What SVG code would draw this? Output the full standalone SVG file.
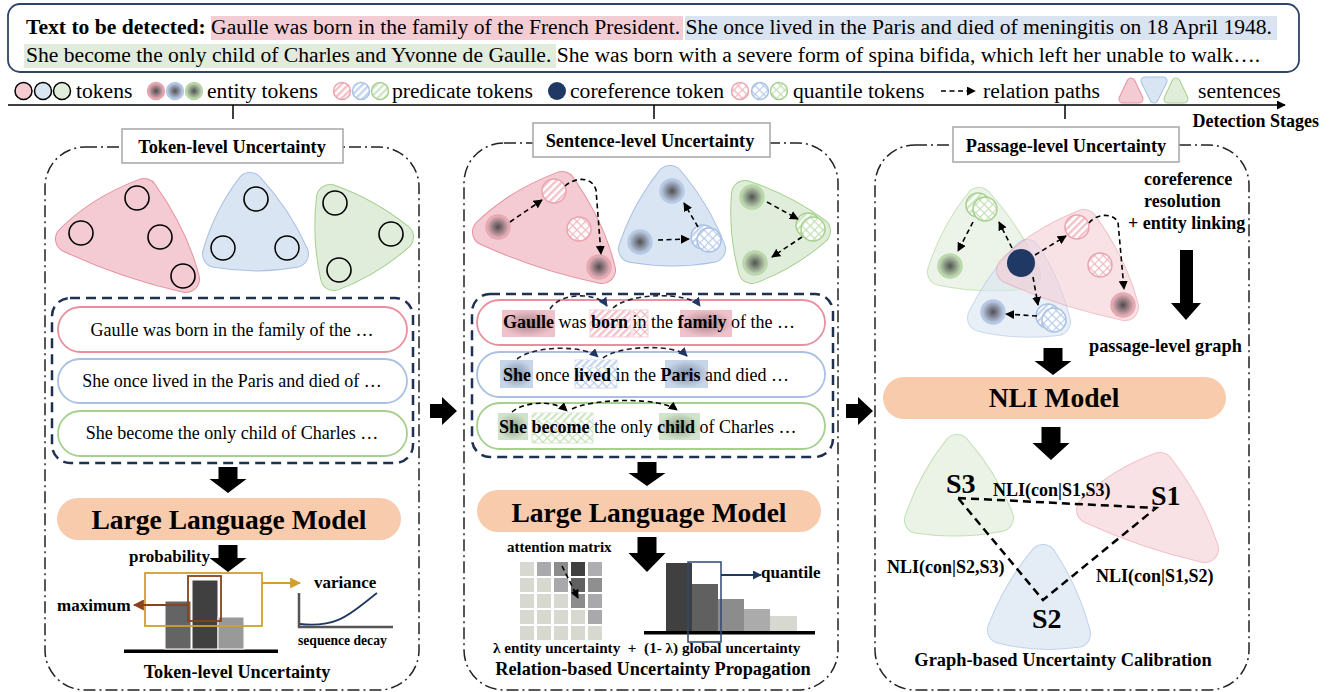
<svg xmlns="http://www.w3.org/2000/svg" width="1335" height="692" viewBox="0 0 1335 692">
<style>
text{font-family:"Liberation Serif","Times New Roman",serif;fill:#000}
.b{font-weight:bold}
.lg{font-size:21.6px}
.panel{fill:none;stroke:#222;stroke-width:1.5;stroke-dasharray:12 4 2 4}
.tbox{fill:#fff;stroke:#a6a6a6;stroke-width:1.5}
.ttl{font-size:18.3px;font-weight:bold;text-anchor:middle}
.dbox{fill:none;stroke:#1f3050;stroke-width:2.5;stroke-dasharray:10 6}
.pill{fill:#fff;stroke-width:1.8}
.ps{stroke:#e8919e}.bs{stroke:#a9c0e4}.gs{stroke:#a5d08e}
.sent{font-size:18px;text-anchor:middle}
.s18{font-size:18px}
.llm{fill:#f8cbad}
.big{font-size:27.5px;font-weight:bold;text-anchor:middle}
.o,.f,.o2,.f2{stroke-linejoin:round}
.o{stroke-width:28}.f{stroke-width:26}
.o2{stroke-width:9}.f2{stroke-width:7}
.tp .o,.tp .o2{fill:#e8919e;stroke:#e8919e}.tp .f,.tp .f2{fill:#f4cbd3;stroke:#f4cbd3}
.tb .o,.tb .o2{fill:#a9c0e4;stroke:#a9c0e4}.tb .f,.tb .f2{fill:#dae5f3;stroke:#dae5f3}
.tg .o,.tg .o2{fill:#a5d08e;stroke:#a5d08e}.tg .f,.tg .f2{fill:#e1eddb;stroke:#e1eddb}
.tok{fill:none;stroke:#000;stroke-width:1.6}
.ep{fill:url(#gp);stroke:#eda3ae;stroke-width:1.5}
.eb{fill:url(#gb);stroke:#b3c8ea;stroke-width:1.5}
.eg{fill:url(#gg);stroke:#b4d9a0;stroke-width:1.5}
.pp{fill:url(#hp);stroke:#eda3ae;stroke-width:1.5}
.pb{fill:url(#hb);stroke:#a9c0e4;stroke-width:1.5}
.pg{fill:url(#hg);stroke:#a5d08e;stroke-width:1.5}
.qp{fill:url(#xp);stroke:#eda3ae;stroke-width:1.5}
.qb{fill:url(#xb);stroke:#a9c0e4;stroke-width:1.5}
.qg{fill:url(#xg);stroke:#a5d08e;stroke-width:1.5}
.dash{fill:none;stroke:#000;stroke-width:1.6;stroke-dasharray:5 3.5}
.dashn{fill:none;stroke:#1a2236;stroke-width:1.6;stroke-dasharray:5 3.5}
.blk{fill:#000}
.lab{font-size:17px;font-weight:bold}
</style>
<defs>
<radialGradient id="gp"><stop offset="0" stop-color="#4f4a4d"/><stop offset="1" stop-color="#f0b9c3"/></radialGradient>
<radialGradient id="gb"><stop offset="0" stop-color="#4f4f55"/><stop offset="1" stop-color="#c5d6ef"/></radialGradient>
<radialGradient id="gg"><stop offset="0" stop-color="#4f534d"/><stop offset="1" stop-color="#cce4bf"/></radialGradient>
<radialGradient id="hgp"><stop offset="0" stop-color="#a8838a"/><stop offset="1" stop-color="#efc1ca"/></radialGradient>
<radialGradient id="hgb"><stop offset="0" stop-color="#8290a6"/><stop offset="1" stop-color="#c6d5ea"/></radialGradient>
<radialGradient id="hgg"><stop offset="0" stop-color="#8fa188"/><stop offset="1" stop-color="#d2e3cb"/></radialGradient>
<pattern id="hp" width="5" height="5" patternUnits="userSpaceOnUse" patternTransform="rotate(45)"><rect width="5" height="5" fill="#fff"/><rect width="2.4" height="5" fill="#f3c1ca"/></pattern>
<pattern id="hb" width="5" height="5" patternUnits="userSpaceOnUse" patternTransform="rotate(45)"><rect width="5" height="5" fill="#fff"/><rect width="2.4" height="5" fill="#c3d4ee"/></pattern>
<pattern id="hg" width="5" height="5" patternUnits="userSpaceOnUse" patternTransform="rotate(45)"><rect width="5" height="5" fill="#fff"/><rect width="2.4" height="5" fill="#cfe5c3"/></pattern>
<pattern id="xp" width="6" height="6" patternUnits="userSpaceOnUse" patternTransform="rotate(45)"><rect width="6" height="6" fill="#fff"/><path d="M0,0.6H6M0.6,0V6" stroke="#f0b5bf" stroke-width="1.1"/></pattern>
<pattern id="xb" width="6" height="6" patternUnits="userSpaceOnUse" patternTransform="rotate(45)"><rect width="6" height="6" fill="#fff"/><path d="M0,0.6H6M0.6,0V6" stroke="#b7cbeb" stroke-width="1.1"/></pattern>
<pattern id="xg" width="6" height="6" patternUnits="userSpaceOnUse" patternTransform="rotate(45)"><rect width="6" height="6" fill="#fff"/><path d="M0,0.6H6M0.6,0V6" stroke="#c3dfb4" stroke-width="1.1"/></pattern>
<marker id="mk" viewBox="0 0 10 10" refX="9" refY="5" markerWidth="9" markerHeight="9" markerUnits="userSpaceOnUse" orient="auto"><path d="M0,0L10,5L0,10z" fill="#000"/></marker>
<marker id="mkn" viewBox="0 0 10 10" refX="9" refY="5" markerWidth="9" markerHeight="9" markerUnits="userSpaceOnUse" orient="auto"><path d="M0,0L10,5L0,10z" fill="#1f3864"/></marker>
<marker id="mkg" viewBox="0 0 10 10" refX="9" refY="5" markerWidth="11" markerHeight="11" markerUnits="userSpaceOnUse" orient="auto"><path d="M0,0L10,5L0,10z" fill="#d2a02a"/></marker>
<marker id="mkb" viewBox="0 0 10 10" refX="9" refY="5" markerWidth="11" markerHeight="11" markerUnits="userSpaceOnUse" orient="auto"><path d="M0,0L10,5L0,10z" fill="#8a4218"/></marker>
</defs>

<g id="input-text">
<rect x="8" y="4" width="1291" height="68" rx="12" fill="#fff" stroke="#2e4468" stroke-width="1.8"/>
<rect x="211" y="16" width="472" height="24" fill="#f4cdd4"/>
<rect x="685" y="16" width="592" height="24" fill="#dae4f0"/>
<rect x="24" y="44" width="532" height="24" fill="#e2ecdd"/>
<text class="lg" x="26" y="34"><tspan class="b">Text to be detected:</tspan> Gaulle was born in the family of the French President. She once lived in the Paris and died of meningitis on 18 April 1948.</text>
<text class="lg" x="26" y="62">She become the only child of Charles and Yvonne de Gaulle. She was born with a severe form of spina bifida, which left her unable to walk….</text>
</g>

<g id="legend">
<circle cx="23.5" cy="91" r="8.5" fill="#f4cbd3" stroke="#000" stroke-width="1.5"/>
<circle cx="43" cy="91" r="8.5" fill="#dae5f3" stroke="#000" stroke-width="1.5"/>
<circle cx="62" cy="91" r="8.5" fill="#e1eddb" stroke="#000" stroke-width="1.5"/>
<text class="lg" x="76" y="98">tokens</text>
<circle class="ep" cx="156" cy="91" r="8.5"/>
<circle class="eb" cx="175" cy="91" r="8.5"/>
<circle class="eg" cx="194" cy="91" r="8.5"/>
<text class="lg" x="207" y="98">entity tokens</text>
<circle class="pp" cx="342" cy="91" r="8.5"/>
<circle class="pb" cx="361" cy="91" r="8.5"/>
<circle class="pg" cx="380" cy="91" r="8.5"/>
<text class="lg" x="392" y="98">predicate tokens</text>
<circle cx="557" cy="91" r="9" fill="#1f3864"/>
<text class="lg" x="570" y="98">coreference token</text>
<circle class="qp" cx="740" cy="91" r="8.5"/>
<circle class="qb" cx="760" cy="91" r="8.5"/>
<circle class="qg" cx="779" cy="91" r="8.5"/>
<text class="lg" x="793" y="98">quantile tokens</text>
<line class="dash" x1="941" y1="91" x2="975" y2="91" marker-end="url(#mk)"/>
<text class="lg" x="983" y="98">relation paths</text>
<g class="tp"><path class="o2" d="M1123,99L1131,82L1139,99Z"/><path class="f2" d="M1123,99L1131,82L1139,99Z"/></g>
<g class="tb"><path class="o2" d="M1145,81L1163,81L1154,99Z"/><path class="f2" d="M1145,81L1163,81L1154,99Z"/></g>
<g class="tg"><path class="o2" d="M1168,99L1176,82L1184,99Z"/><path class="f2" d="M1168,99L1176,82L1184,99Z"/></g>
<text class="lg" x="1198" y="98">sentences</text>
<line x1="8" y1="105" x2="1285" y2="105" stroke="#000" stroke-width="1.6" marker-end="url(#mk)"/>
<line x1="233" y1="105" x2="233" y2="119" stroke="#000" stroke-width="1.5"/>
<line x1="654" y1="105" x2="654" y2="119" stroke="#000" stroke-width="1.5"/>
<line x1="1065" y1="105" x2="1065" y2="119" stroke="#000" stroke-width="1.5"/>
<text class="b" x="1319" y="127" font-size="18" text-anchor="end">Detection Stages</text>
</g>

<g id="token-level">
<rect class="panel" x="45" y="147" width="374" height="543" rx="40"/>
<rect class="tbox" x="122" y="129" width="221" height="34"/>
<text class="ttl" x="232" y="153">Token-level Uncertainty</text>
<g class="tp"><path class="o" d="M69,239Q98.5,209.2 144,192Q174.6,235.2 186,279Q125.9,265.7 69,239Z"/><path class="f" d="M69,239Q98.5,209.2 144,192Q174.6,235.2 186,279Q125.9,265.7 69,239Z"/></g>
<g class="tb"><path class="o" d="M250,186Q226.8,216.6 216,254Q256.1,260.8 295,254Q278.1,216.6 250,186Z"/><path class="f" d="M250,186Q226.8,216.6 216,254Q256.1,260.8 295,254Q278.1,216.6 250,186Z"/></g>
<g class="tg"><path class="o" d="M330,198Q368.1,211.5 400,237Q370.7,262.9 334,277Q325.2,237.6 330,198Z"/><path class="f" d="M330,198Q368.1,211.5 400,237Q370.7,262.9 334,277Q325.2,237.6 330,198Z"/></g>
<circle class="tok" cx="137" cy="198" r="12"/>
<circle class="tok" cx="81" cy="233" r="12"/>
<circle class="tok" cx="160" cy="237" r="12"/>
<circle class="tok" cx="183" cy="276" r="12"/>
<circle class="tok" cx="256" cy="199" r="12"/>
<circle class="tok" cx="223" cy="248" r="12"/>
<circle class="tok" cx="287" cy="248" r="12"/>
<circle class="tok" cx="335" cy="203" r="12"/>
<circle class="tok" cx="391" cy="234" r="12"/>
<circle class="tok" cx="339" cy="270" r="12"/>
<rect class="dbox" x="52" y="298" width="361" height="165" rx="18"/>
<rect class="pill ps" x="58" y="307" width="349" height="45" rx="22.5"/>
<rect class="pill bs" x="58" y="359" width="349" height="44" rx="22"/>
<rect class="pill gs" x="58" y="411" width="349" height="45" rx="22.5"/>
<text class="sent" x="232" y="336">Gaulle was born in the family of the …</text>
<text class="sent" x="232" y="387">She once lived in the Paris and died of …</text>
<text class="sent" x="232" y="439">She become the only child of Charles …</text>
<rect class="llm" x="57" y="498" width="344" height="42" rx="21"/>
<text class="big" x="229" y="529">Large Language Model</text>
<text class="lab" x="210" y="562" text-anchor="end">probability</text>
<rect x="124" y="649.5" width="154" height="3.5" fill="#000"/>
<rect x="165" y="601" width="26" height="48" fill="#646464" stroke="#fff" stroke-width="1"/>
<rect x="192" y="580" width="26" height="69" fill="#404040" stroke="#fff" stroke-width="1"/>
<rect x="218" y="617" width="26" height="32" fill="#999" stroke="#fff" stroke-width="1"/>
<rect x="145" y="573" width="117" height="53" fill="none" stroke="#d2a02a" stroke-width="1.8"/>
<rect x="188" y="576" width="33" height="45" fill="none" stroke="#8a4218" stroke-width="1.8"/>
<text class="lab" x="57" y="611">maximum</text>
<text class="lab" x="314" y="588">variance</text>
<path d="M299,593V627H393" fill="none" stroke="#555" stroke-width="2.5"/>
<path d="M300,624C340,628 352,612 377,593" fill="none" stroke="#1f3864" stroke-width="1.8"/>
<text x="298" y="645" font-size="13.6" font-weight="bold">sequence decay</text>
<text x="237" y="678" font-size="18.2" font-weight="bold" text-anchor="middle">Token-level Uncertainty</text>
</g>

<g id="sentence-level">
<rect class="panel" x="464" y="143" width="374" height="547" rx="40"/>
<rect class="tbox" x="533" y="123" width="237" height="34"/>
<text class="ttl" x="650" y="147">Sentence-level Uncertainty</text>
<g class="tp"><path class="o" d="M486,232Q516.2,202.4 562,185Q591.6,227.1 602,270Q542.2,257.6 486,232Z"/><path class="f" d="M486,232Q516.2,202.4 562,185Q591.6,227.1 602,270Q542.2,257.6 486,232Z"/></g>
<g class="tb"><path class="o" d="M670,179Q644.9,210.5 632,249Q672.2,256 712,249Q696.9,210.5 670,179Z"/><path class="f" d="M670,179Q644.9,210.5 632,249Q672.2,256 712,249Q696.9,210.5 670,179Z"/></g>
<g class="tg"><path class="o" d="M745,194Q783.9,206.7 817,231Q788.5,256.1 752,270Q741.7,232.1 745,194Z"/><path class="f" d="M745,194Q783.9,206.7 817,231Q788.5,256.1 752,270Q741.7,232.1 745,194Z"/></g>
<circle class="ep" cx="498" cy="227" r="12"/>
<circle class="pp" cx="554" cy="191" r="12"/>
<circle class="qp" cx="579" cy="229" r="12"/>
<circle class="ep" cx="599" cy="267" r="12"/>
<circle class="eb" cx="672" cy="191" r="12"/>
<circle class="eb" cx="640" cy="242" r="12"/>
<circle class="pb" cx="703" cy="237" r="12"/>
<circle class="qb" cx="709" cy="240" r="12"/>
<circle class="eg" cx="752" cy="197" r="12"/>
<circle class="eg" cx="755" cy="263" r="12"/>
<circle class="pg" cx="808" cy="225" r="12"/>
<circle class="qg" cx="813" cy="229" r="12"/>
<rect class="dbox" x="472" y="294" width="361" height="163" rx="18"/>
<rect class="pill ps" x="477" y="300" width="348" height="45" rx="22.5"/>
<rect class="pill bs" x="477" y="352" width="348" height="45" rx="22.5"/>
<rect class="pill gs" x="477" y="403" width="348" height="46" rx="23"/>
<rect x="502" y="310" width="53" height="27" fill="url(#hgp)"/>
<rect x="590" y="310" width="41" height="27" fill="url(#hp)" stroke="#f3d2d8"/>
<rect x="633" y="310" width="15" height="27" fill="url(#xp)" stroke="#f3d2d8"/>
<rect x="680" y="310" width="52" height="27" fill="url(#hgp)"/>
<rect x="500" y="360" width="33" height="28" fill="url(#hgb)"/>
<rect x="575" y="360" width="42" height="28" fill="url(#xb)" stroke="#d3def2"/>
<rect x="575" y="360" width="42" height="7" fill="url(#hb)"/>
<rect x="665" y="360" width="43" height="28" fill="url(#hgb)"/>
<rect x="498" y="413" width="30" height="27" fill="url(#hgg)"/>
<rect x="532" y="413" width="61" height="30" fill="url(#xg)" stroke="#d8e9cf"/>
<rect x="532" y="413" width="61" height="7" fill="url(#hg)"/>
<rect x="659" y="413" width="41" height="27" fill="url(#hgg)"/>
<text class="s18" x="503" y="328"><tspan class="b">Gaulle</tspan> was <tspan class="b">born</tspan> in the <tspan class="b">family</tspan> of the …</text>
<text class="s18" x="503" y="381"><tspan class="b">She</tspan> once <tspan class="b">lived</tspan> in the <tspan class="b">Paris</tspan> and died …</text>
<text class="s18" x="499" y="433"><tspan class="b">She</tspan> <tspan class="b">become</tspan> the only <tspan class="b">child</tspan> of Charles …</text>
<rect class="llm" x="477" y="490" width="344" height="42" rx="21"/>
<text class="big" x="649" y="522">Large Language Model</text>
<text x="507" y="552" font-size="15" font-weight="bold">attention matrix</text>
<g id="attention-grid">
<rect x="520" y="562" width="14" height="14" fill="#d7d8d0"/><rect x="537" y="562" width="14" height="14" fill="#a9a9ab"/><rect x="554" y="562" width="14" height="14" fill="#8c8c8c"/><rect x="571" y="562" width="14" height="14" fill="#404040"/><rect x="588" y="562" width="14" height="14" fill="#aeaeb0"/>
<rect x="520" y="578" width="14" height="14" fill="#d7d8d0"/><rect x="537" y="578" width="14" height="14" fill="#d7d8d0"/><rect x="554" y="578" width="14" height="14" fill="#a9a9ab"/><rect x="571" y="578" width="14" height="14" fill="#606060"/><rect x="588" y="578" width="14" height="14" fill="#8f8f8f"/>
<rect x="520" y="594" width="14" height="14" fill="#d7d8d0"/><rect x="537" y="594" width="14" height="14" fill="#d7d8d0"/><rect x="554" y="594" width="14" height="14" fill="#d7d8d0"/><rect x="571" y="594" width="14" height="14" fill="#8c8c8c"/><rect x="588" y="594" width="14" height="14" fill="#a9a9ab"/>
<rect x="520" y="610" width="14" height="14" fill="#d7d8d0"/><rect x="537" y="610" width="14" height="14" fill="#d7d8d0"/><rect x="554" y="610" width="14" height="14" fill="#d7d8d0"/><rect x="571" y="610" width="14" height="14" fill="#d7d8d0"/><rect x="588" y="610" width="14" height="14" fill="#a9a9ab"/>
<rect x="520" y="626" width="14" height="14" fill="#d7d8d0"/><rect x="537" y="626" width="14" height="14" fill="#d7d8d0"/><rect x="554" y="626" width="14" height="14" fill="#d7d8d0"/><rect x="571" y="626" width="14" height="14" fill="#d7d8d0"/><rect x="588" y="626" width="14" height="14" fill="#d7d8d0"/>
</g>
<rect x="666" y="563" width="26" height="69" fill="#404040"/>
<rect x="692" y="584" width="26" height="48" fill="#606060"/>
<rect x="718" y="599" width="26" height="33" fill="#8c8c8c"/>
<rect x="744" y="609" width="26" height="23" fill="#ababab"/>
<rect x="770" y="616" width="27" height="16" fill="#d7d8d0"/>
<rect x="644" y="631" width="171" height="3.5" fill="#000"/>
<rect x="688" y="562" width="33" height="80" fill="none" stroke="#2f4a70" stroke-width="1.5"/>
<text class="lab" x="761" y="578">quantile</text>
<text x="493" y="653" font-size="15.2" font-weight="bold" xml:space="preserve">λ entity uncertainty  +  (1- λ) global uncertainty</text>
<text x="653" y="675" font-size="18.3" font-weight="bold" text-anchor="middle">Relation-based Uncertainty Propagation</text>
</g>

<g id="passage-level">
<rect class="panel" x="875" y="145" width="374" height="545" rx="40"/>
<rect class="tbox" x="953" y="127" width="226" height="35"/>
<text class="ttl" x="1066" y="152">Passage-level Uncertainty</text>
<g class="tg" opacity="0.6"><path class="o" d="M979,201Q953.3,232.7 941,272Q984.5,280.8 1027,275Q1009.2,234.6 979,201Z"/><path class="f" d="M979,201Q953.3,232.7 941,272Q984.5,280.8 1027,275Q1009.2,234.6 979,201Z"/></g>
<g class="tb" opacity="0.6"><path class="o" d="M1027,253Q998.7,281.9 981,318Q1018.2,326.7 1057,322Q1048.1,284.4 1027,253Z"/><path class="f" d="M1027,253Q998.7,281.9 981,318Q1018.2,326.7 1057,322Q1048.1,284.4 1027,253Z"/></g>
<g class="tp" opacity="0.55"><path class="o" d="M1084,223Q1039.2,240.5 1010,270Q1065.9,295 1125,307Q1114,264.5 1084,223Z"/><path class="f" d="M1084,223Q1039.2,240.5 1010,270Q1065.9,295 1125,307Q1114,264.5 1084,223Z"/></g>
<circle class="pg" cx="978" cy="205" r="12"/>
<circle class="qg" cx="985" cy="209" r="12"/>
<circle class="eg" cx="950" cy="266" r="12"/>
<circle class="pp" cx="1077" cy="227" r="12"/>
<circle class="qp" cx="1100" cy="265" r="12"/>
<circle class="ep" cx="1123" cy="305" r="12"/>
<circle class="eb" cx="993" cy="312" r="12"/>
<circle class="pb" cx="1048" cy="316" r="12"/>
<circle class="qb" cx="1054" cy="320" r="12"/>
<circle cx="1021" cy="263" r="14" fill="#1f3864"/>
<text x="1144" y="185" font-size="18" font-weight="bold">coreference</text>
<text x="1144" y="207" font-size="18" font-weight="bold">resolution</text>
<text x="1128" y="229" font-size="18" font-weight="bold">+ entity linking</text>
<text x="1089" y="352" font-size="18.3" font-weight="bold">passage-level graph</text>
<rect class="llm" x="883" y="377" width="343" height="42" rx="21"/>
<text class="big" x="1054" y="407">NLI Model</text>
<g class="tg" opacity="0.65"><path class="o" d="M957,448Q931.3,480.6 918,520Q959.2,526.1 1000,518Q984.6,479.3 957,448Z"/><path class="f" d="M957,448Q931.3,480.6 918,520Q959.2,526.1 1000,518Q984.6,479.3 957,448Z"/></g>
<g class="tp" opacity="0.55"><path class="o" d="M1160,466Q1117,481.9 1090,510Q1146.3,535.9 1205,549Q1191.7,507.3 1160,466Z"/><path class="f" d="M1160,466Q1117,481.9 1090,510Q1146.3,535.9 1205,549Q1191.7,507.3 1160,466Z"/></g>
<g class="tb" opacity="0.7"><path class="o" d="M1043,558Q1016.5,590 1001,630Q1038.6,639.4 1077,634Q1065.9,592.6 1043,558Z"/><path class="f" d="M1043,558Q1016.5,590 1001,630Q1038.6,639.4 1077,634Q1065.9,592.6 1043,558Z"/></g>
<text x="946" y="493" font-size="28" font-weight="bold">S3</text>
<text x="1151" y="505" font-size="28" font-weight="bold">S1</text>
<text x="1032" y="628" font-size="28" font-weight="bold">S2</text>
<text x="993" y="496" font-size="18" font-weight="bold">NLI(con|S1,S3)</text>
<text x="887" y="573" font-size="18" font-weight="bold">NLI(con|S2,S3)</text>
<text x="1096" y="582" font-size="18" font-weight="bold">NLI(con|S1,S2)</text>
<text x="1063" y="666" font-size="18.4" font-weight="bold" text-anchor="middle">Graph-based Uncertainty Calibration</text>
</g>

<g id="connectors">
<path class="blk" d="M218.5,467H237.5V479H246.5L228,493L209.5,479H218.5Z"/>
<path class="blk" d="M218.5,545H237.5V558H246.5L228,572L209.5,558H218.5Z"/>
<path class="blk" d="M637.5,462H656.5V473H665.5L647,486L628.5,473H637.5Z"/>
<path class="blk" d="M637.5,537H656.5V553H665.5L647,572L628.5,553H637.5Z"/>
<path class="blk" d="M1043.5,348H1062.5V361H1071.5L1053,375L1034.5,361H1043.5Z"/>
<path class="blk" d="M1041.5,427H1060.5V443H1069.5L1051,460L1032.5,443H1041.5Z"/>
<path class="blk" d="M1180,250H1193V303H1201L1186,320L1171,303H1180Z"/>
<path class="blk" d="M430,404H442V397L457,411L442,425V418H430Z"/>
<path class="blk" d="M846,404H858V397L873,411L858,425V418H846Z"/>
<line x1="262" y1="583" x2="300" y2="583" stroke="#d2a02a" stroke-width="1.8" marker-end="url(#mkg)"/>
<line x1="188" y1="605" x2="134" y2="605" stroke="#8a4218" stroke-width="2" marker-end="url(#mkb)"/>
<line x1="721" y1="575" x2="761" y2="575" stroke="#1f3864" stroke-width="1.8" marker-end="url(#mkn)"/>
<line class="dash" x1="562" y1="566" x2="578" y2="598" marker-end="url(#mk)"/>
<line class="dash" x1="510" y1="222" x2="542" y2="200" marker-end="url(#mk)"/>
<path class="dash" d="M565,186C575,177 592,176 596,190L601,254" marker-end="url(#mk)"/>
<line class="dash" x1="658" y1="240" x2="689" y2="239" marker-end="url(#mk)"/>
<line class="dash" x1="698" y1="227" x2="684" y2="203" marker-end="url(#mk)"/>
<line class="dash" x1="767" y1="202" x2="798" y2="219" marker-end="url(#mk)"/>
<line class="dash" x1="802" y1="237" x2="772" y2="257" marker-end="url(#mk)"/>
<path class="dashn" d="M550,309C560,292 598,292 607,306" marker-end="url(#mkn)"/>
<path class="dashn" d="M613,308C630,292 690,292 700,306" marker-end="url(#mkn)"/>
<path class="dashn" d="M517,359C535,345 585,345 598,357" marker-end="url(#mkn)"/>
<path class="dashn" d="M603,358C620,345 675,344 687,356" marker-end="url(#mkn)"/>
<path class="dash" d="M512,412C525,401 555,400 567,411" marker-end="url(#mk)"/>
<path class="dash" d="M572,409C595,398 660,397 677,410" marker-end="url(#mk)"/>
<line class="dash" x1="973" y1="222" x2="958" y2="251" marker-end="url(#mk)"/>
<line class="dash" x1="1012" y1="248" x2="999" y2="222" marker-end="url(#mk)"/>
<line class="dash" x1="1035" y1="255" x2="1066" y2="236" marker-end="url(#mk)"/>
<path class="dash" d="M1089,223C1096,214 1112,212 1118,222L1124,289" marker-end="url(#mk)"/>
<line class="dash" x1="1033" y1="277" x2="1038" y2="305" marker-end="url(#mk)"/>
<line class="dash" x1="1037" y1="316" x2="1006" y2="314" marker-end="url(#mk)"/>
<path d="M958,498L1156,508L1043,600Z" fill="none" stroke="#000" stroke-width="2.5" stroke-dasharray="8 5"/>
</g>
</svg>
